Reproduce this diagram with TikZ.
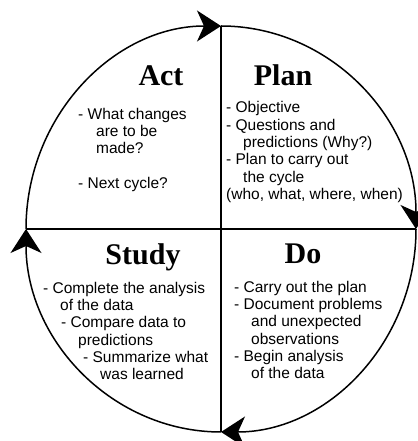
\documentclass[tikz,border=0pt]{standalone}
\usepackage{fontspec}
\setmainfont{Liberation Sans}
\newfontfamily\titlefont{Liberation Serif}
\usetikzlibrary{arrows.meta}
\newcommand{\ind}[1]{\hspace*{#1pt}}

\begin{document}
\begin{tikzpicture}[x=1pt,y=1pt]

%
% Styles
%
\tikzstyle{heading} = [font=\titlefont\bfseries\fontsize{30}{30}\selectfont,inner sep=0pt,anchor=base]
\tikzstyle{items} = [font=\fontsize{15.5}{17.3}\selectfont,align=left,inner sep=0pt,anchor=north west]
\tikzstyle{loopline} = [line width=1.5pt,-{Stealth[length=24pt,width=31pt,inset=7pt]}]

\useasboundingbox (0,0) rectangle (417,441);

\coordinate (top)    at (221,415);
\coordinate (right)  at (416,212);
\coordinate (bottom) at (221,9);
\coordinate (left)   at (26,212);

\draw[line width=1.5pt] (top) -- (bottom);
\draw[line width=1.5pt] (left) -- (right);

\draw[loopline] (left)   arc[start angle=180,end angle=90,x radius=195,y radius=203];
\draw[loopline] (top)    arc[start angle=90,end angle=0,x radius=195,y radius=203];
\draw[loopline] (right)  arc[start angle=0,end angle=-90,x radius=195,y radius=203];
\draw[loopline] (bottom) arc[start angle=-90,end angle=-180,x radius=195,y radius=203];

\node[heading] (act)   at (161,355) {Act};
\node[heading] (plan)  at (283,355) {Plan};
\node[heading] (study) at (143,176) {Study};
\node[heading] (do)    at (303,177) {Do};

\node[items] (actlist) at (78,333.3) {- What changes\\\ind{18}are to be\\\ind{18}made?\\[17.3pt]- Next cycle?};
\node[items] (planlist) at (226,339.5) {- Objective\\- Questions and\\\ind{17}predictions (Why?)\\- Plan to carry out\\\ind{17}the cycle\\(who, what, where, when)};
\node[items] (studylist) at (43,159.3) {- Complete the analysis\\\ind{17}of the data\\\ind{18}- Compare data to\\\ind{35}predictions\\\ind{40}- Summarize what\\\ind{57}was learned};
\node[items] (dolist) at (234,160.3) {- Carry out the plan\\- Document problems\\\ind{17}and unexpected\\\ind{17}observations\\- Begin analysis\\\ind{17}of the data};

\end{tikzpicture}
\end{document}
